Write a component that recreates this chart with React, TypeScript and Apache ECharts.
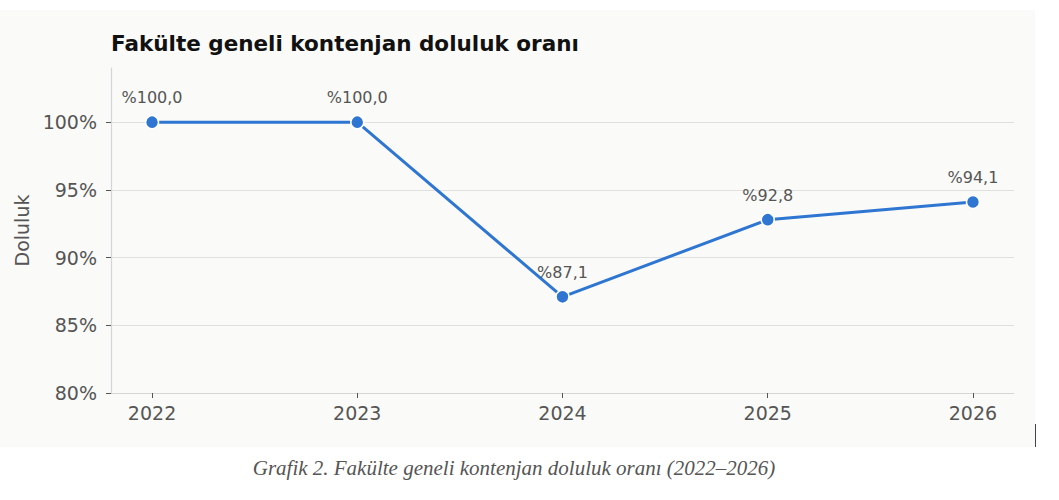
import React, { useEffect, useRef } from "react";
import * as echarts from "echarts";

const years = [2022, 2023, 2024, 2025, 2026];
const occupancy = [100.0, 100.0, 87.1, 92.8, 94.1];
const yTicks = [80, 85, 90, 95, 100];
const titleText = "Fakülte geneli kontenjan doluluk oranı";
const captionText = "Grafik 2. Fakülte geneli kontenjan doluluk oranı (2022–2026)";
const yAxisName = "Doluluk";

export default function App() {
  const ref = useRef<HTMLDivElement>(null);
  useEffect(() => {
    if (!ref.current) return;
    const chart = echarts.init(ref.current, null, { renderer: "svg" });
    const font = "DejaVu Sans";
    chart.setOption({
      animation: false,
      backgroundColor: "#ffffff",
      graphic: [
        {
          type: "rect",
          z: -10,
          silent: true,
          shape: { x: 0, y: 10, width: 1035, height: 437 },
          style: { fill: "#fafaf8" },
        },
        {
          type: "line",
          silent: true,
          shape: { x1: 1035.5, y1: 424, x2: 1035.5, y2: 447 },
          style: { stroke: "#444", lineWidth: 1 },
        },
        {
          type: "text",
          x: 111,
          y: 43,
          style: {
            text: titleText,
            font: `bold 21.5px "${font}"`,
            fill: "#111",
            verticalAlign: "middle",
          },
        },
        {
          type: "text",
          x: 514,
          y: 468,
          style: {
            text: captionText,
            font: 'italic 21px "Liberation Serif"',
            fill: "#555",
            align: "center",
            verticalAlign: "middle",
          },
        },
      ],
      grid: { left: 111, top: 68, width: 903, height: 325, containLabel: false },
      xAxis: {
        type: "value",
        min: 2021.8,
        max: 2026.2,
        axisLine: { show: true, lineStyle: { color: "#d6d6d6", width: 1.2 } },
        axisTick: {
          show: true,
          customValues: years,
          length: 5,
          lineStyle: { color: "#555" },
        },
        axisLabel: {
          customValues: years,
          formatter: (v: number) => String(Math.round(v)),
          color: "#555",
          fontFamily: font,
          fontSize: 19,
          margin: 10,
        },
        splitLine: { show: false },
      },
      yAxis: {
        type: "value",
        min: 80,
        max: 104,
        name: yAxisName,
        nameLocation: "middle",
        nameGap: 77,
        nameTextStyle: { color: "#555", fontFamily: font, fontSize: 19 },
        axisLine: { show: true, lineStyle: { color: "#d6d6d6", width: 1.2 } },
        axisTick: {
          show: true,
          customValues: yTicks,
          length: 5,
          lineStyle: { color: "#555" },
        },
        axisLabel: {
          customValues: yTicks,
          formatter: (v: number) => `${v}%`,
          color: "#555",
          fontFamily: font,
          fontSize: 19,
          margin: 14,
        },
        splitLine: { show: true, lineStyle: { color: "#e0e0e0", width: 1 } },
      },
      series: [
        {
          type: "line",
          data: years.map((y, i) => [y, occupancy[i]]),
          symbol: "circle",
          symbolSize: 13,
          lineStyle: { color: "#2e76d2", width: 3 },
          itemStyle: { color: "#2e76d2", borderColor: "#ffffff", borderWidth: 1.5 },
          label: {
            show: true,
            position: "top",
            distance: 9,
            color: "#555",
            fontFamily: font,
            fontSize: 16,
            formatter: (p: any) => "%" + p.value[1].toFixed(1).replace(".", ","),
          },
        },
      ],
    });
    return () => chart.dispose();
  }, []);
  return (
    <div
      ref={ref}
      style={{ position: "absolute", left: 0, top: 0, width: 1059, height: 500 }}
    />
  );
}
